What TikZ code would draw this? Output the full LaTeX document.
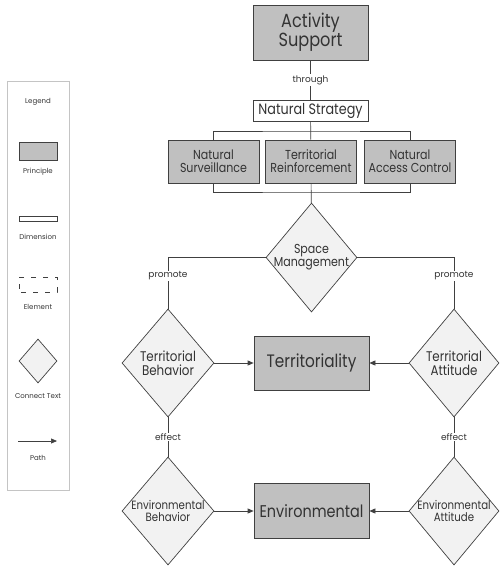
\documentclass[tikz,border=0pt]{standalone}
\usepackage{fontspec}
\setmainfont{Poppins}[FakeStretch=0.85]
\newfontfamily\widefont{Poppins}
\usetikzlibrary{shapes.geometric,arrows.meta}
\definecolor{boxgray}{HTML}{C0C0C0}
\definecolor{diafill}{HTML}{F2F2F2}
\definecolor{linegray}{HTML}{404040}
\definecolor{framegray}{HTML}{C4C4C4}
\definecolor{textgray}{HTML}{333333}
\newcommand{\fs}[1]{\fontsize{#1}{#1}\selectfont}
\begin{document}
\begin{tikzpicture}[x=1pt,y=-1pt,line width=0.7pt,draw=linegray,text=textgray,
  principle/.style={draw=linegray,fill=boxgray,align=center,inner sep=0pt},
  dimension/.style={draw=linegray,fill=white,align=center,inner sep=0pt},
  connect/.style={diamond,draw=linegray,fill=diafill,inner sep=0pt},
  tag/.style={fill=white,inner sep=1pt,font=\widefont\fs{9}},
  legendtext/.style={font=\widefont\fs{7}},
  pathto/.style={-{Triangle[length=6pt,width=5pt]}}]
\useasboundingbox (0,0) rectangle (499,566);
% Nodo Activity Support
\node[principle,minimum width=115pt,minimum height=55pt,font=\fs{19}](node activity) at (310.5,32.5){Activity\\Support};
% Nodo Natural Strategy
\node[dimension,minimum width=115pt,minimum height=21pt,font=\fs{15}](node strategy) at (310.5,110.5){Natural Strategy};
% Nodi principi
\node[principle,minimum width=91pt,minimum height=43pt,font=\fs{13}](node surv) at (213.5,161.5){Natural\\Surveillance};
\node[principle,minimum width=91pt,minimum height=43pt,font=\fs{13}](node reinf) at (311,161.5){Territorial\\Reinforcement};
\node[principle,minimum width=91pt,minimum height=43pt,font=\fs{13}](node access) at (410,161.5){Natural\\Access Control};
% Nodo Space Management
\node[connect,minimum width=91pt,minimum height=109pt,
  label={[font=\fs{13},align=center]center:Space\\Management}](node space) at (311.5,257.5){};
% Riga Territoriality
\node[connect,minimum width=92pt,minimum height=108pt,
  label={[font=\fs{14},align=center]center:Territorial\\Behavior}](node tbeh) at (168,363){};
\node[principle,minimum width=115pt,minimum height=54pt,font=\fs{18}](node terr) at (311.5,363){Territoriality};
\node[connect,minimum width=90pt,minimum height=108pt,
  label={[font=\fs{14},align=center]center:Territorial\\Attitude}](node tatt) at (454,363){};
% Riga Environmental
\node[connect,minimum width=92pt,minimum height=108pt,
  label={[font=\fs{12},align=center]center:Environmental\\Behavior}](node ebeh) at (168,511){};
\node[principle,minimum width=115pt,minimum height=55pt,font=\fs{17}](node env) at (311.5,511){Environmental};
\node[connect,minimum width=90pt,minimum height=108pt,
  label={[font=\fs{12},align=center]center:Environmental\\Attitude}](node eatt) at (454,511){};

% Collegamenti in alto
\coordinate (top bus) at (311,131);
\coordinate (bot bus) at (311,192);
\draw(node activity)--(node strategy)node[midway,tag]{through};
\draw(node strategy)--(node reinf);
\draw(node surv.north)|-(top bus)-|(node access.north);
\draw(node surv.south)|-(bot bus)-|(node access.south);
\draw(node reinf)--(node space);
% Freccia promote
\draw(node space.west)-|(node tbeh.north)node[pos=0.68,tag]{promote};
\draw(node space.east)-|(node tatt.north)node[pos=0.68,tag]{promote};
% Frecce verso i principi
\draw[pathto](node tbeh)--(node terr);
\draw[pathto](node tatt)--(node terr);
\draw(node tbeh)--(node ebeh)node[midway,tag]{effect};
\draw(node tatt)--(node eatt)node[midway,tag]{effect};
\draw[pathto](node ebeh)--(node env);
\draw[pathto](node eatt)--(node env);

% Legenda
\node[draw=framegray,minimum width=62pt,minimum height=409pt,inner sep=0pt](node legend) at (38,285.5){};
\node[legendtext](node legend title) at (38,102){Legend};
\node[principle,minimum width=38pt,minimum height=18pt](node key principle) at (38,151){};
\node[legendtext](node key principle text) at (38,172){Principle};
\node[dimension,minimum width=38pt,minimum height=5pt](node key dimension) at (38,218.5){};
\node[legendtext](node key dimension text) at (38,237){Dimension};
\node[draw=linegray,dash pattern=on 5pt off 7pt,dash phase=-2pt,minimum width=38pt,minimum height=15pt,inner sep=0pt](node key element) at (38,284.5){};
\node[legendtext](node key element text) at (38,307){Element};
\node[connect,minimum width=38pt,minimum height=44pt](node key connect) at (38,361){};
\node[legendtext](node key connect text) at (38,396){Connect Text};
\coordinate (path start) at (18,441);
\coordinate (path end) at (57,441);
\draw[pathto](path start)--(path end);
\node[legendtext](node key path text) at (38,458){Path};
\end{tikzpicture}
\end{document}
